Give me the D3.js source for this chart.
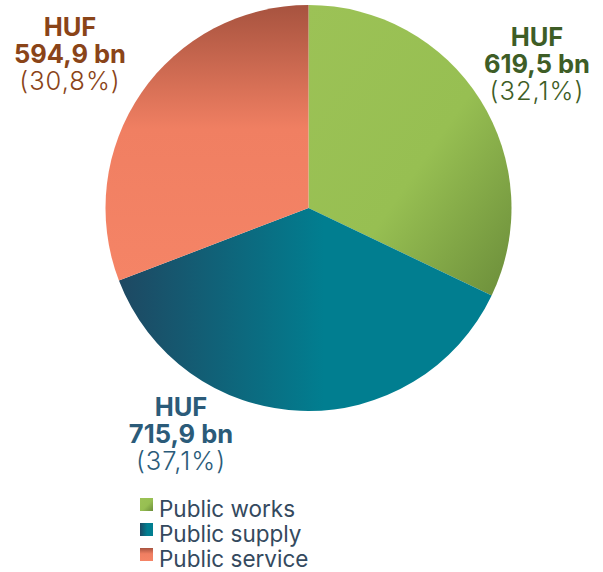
<!DOCTYPE html>
<html>
<head>
<meta charset="utf-8">
<script src="https://cdn.jsdelivr.net/npm/d3@7"></script>
<style>
    body { margin: 0; background: #fff; }
    text { font-family: Inter, Roboto, "Noto Sans", sans-serif; }
</style>
</head>
<body>
<div id="chart"></div>
<script>
const categories = ["Public works", "Public supply", "Public service"];
const values = [619.5, 715.9, 594.9];
const amountLabels = ["619,5 bn", "715,9 bn", "594,9 bn"];
const shares = ["(32,1%)", "(37,1%)", "(30,8%)"];

const w = 603;
const h = 572;
const cx = 308.5;
const cy = 208;
const r = 203;

// gradient stops per slice
const grads = [
    { id: "g-works", x1: "0%", y1: "0%", x2: "100%", y2: "100%",
      stops: [["0%", "#9cc256"], ["55%", "#97bf52"], ["100%", "#6b8d3a"]] },
    { id: "g-supply", x1: "0%", y1: "0%", x2: "100%", y2: "0%",
      stops: [["0%", "#1e4862"], ["55%", "#017e90"], ["100%", "#017e90"]] },
    { id: "g-service", x1: "0%", y1: "0%", x2: "0%", y2: "100%",
      stops: [["0%", "#a7533f"], ["45%", "#f07f62"], ["100%", "#f58466"]] }
];
const labelColors = ["#3e5d26", "#2b5b79", "#8a4418"];

const svg = d3.select("#chart")
    .append("svg")
    .attr("width", w)
    .attr("height", h);

const defs = svg.append("defs");
grads.forEach(function (g) {
    const lg = defs.append("linearGradient")
        .attr("id", g.id)
        .attr("x1", g.x1).attr("y1", g.y1)
        .attr("x2", g.x2).attr("y2", g.y2);
    g.stops.forEach(function (s) {
        lg.append("stop").attr("offset", s[0]).attr("stop-color", s[1]);
    });
});

const pie = d3.pie().sort(null).value(d => d);
const arc = d3.arc().innerRadius(0).outerRadius(r);
const arcs = pie(values);

svg.append("g")
    .attr("transform", "translate(" + cx + "," + cy + ")")
    .selectAll("path")
    .data(arcs)
    .enter()
    .append("path")
    .attr("d", arc)
    .attr("fill", (d, i) => "url(#" + grads[i].id + ")")
    .attr("stroke", "none");

// labels
const labelPos = [[537, 46], [181, 416], [70, 36]];
const lab = svg.append("g")
    .selectAll("text")
    .data(arcs)
    .enter()
    .append("text")
    .attr("text-anchor", "middle")
    .attr("fill", (d, i) => labelColors[i])
    .attr("font-size", 25.5)
    .attr("x", (d, i) => labelPos[i][0])
    .attr("y", (d, i) => labelPos[i][1]);
lab.append("tspan")
    .attr("font-weight", "bold")
    .text("HUF");
lab.append("tspan")
    .attr("x", (d, i) => labelPos[i][0])
    .attr("dy", 26.8)
    .attr("font-weight", "bold")
    .text((d, i) => amountLabels[i]);
lab.append("tspan")
    .attr("x", (d, i) => labelPos[i][0])
    .attr("dy", 26.8)
    .attr("font-weight", 300)
    .attr("letter-spacing", 1)
    .text((d, i) => shares[i]);

// legend
const legend = svg.append("g")
    .attr("transform", "translate(140,498)");
const item = legend.selectAll("g")
    .data(categories)
    .enter()
    .append("g")
    .attr("transform", (d, i) => "translate(0," + i * 25 + ")");
item.append("rect")
    .attr("width", 13)
    .attr("height", 13)
    .attr("fill", (d, i) => "url(#" + grads[i].id + ")");
item.append("text")
    .attr("x", 19)
    .attr("y", 19)
    .attr("font-size", 22.5)
    .attr("fill", "#34495e")
    .text(d => d);
</script>
</body>
</html>
